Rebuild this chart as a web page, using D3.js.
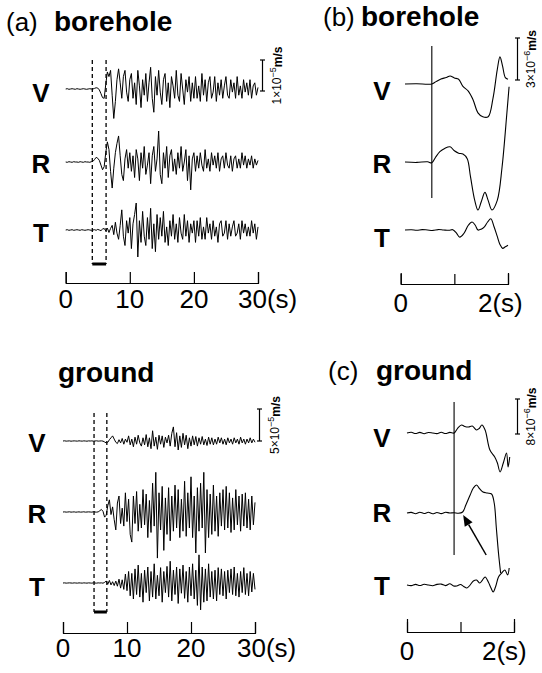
<!DOCTYPE html>
<html>
<head>
<meta charset="utf-8">
<script src="https://cdn.jsdelivr.net/npm/d3@7"></script>
<style>
  body { margin: 0; background: #fff; }
  svg { display: block; }
  text { font-family: "Liberation Sans", Arial, Helvetica, sans-serif; fill: #000; }
</style>
</head>
<body>
<svg id="chart" width="542" height="673"></svg>
<script>
// velocities in units of 1e-6 m/s

// 30 s records, one sample every 0.25 s
const dt = 0.25;

const boreholeV = [0,0.1,-0.1,0,0.1,0,-0.1,0.1,0,-0.1,0,0.1,0,-0.1,0,0.1,0,
    0,0.2,0.4,0.3,-0.3,-1.5,-2.8,-3.0,1.5,5.5,4.0,6.0,-2.0,-9.5,-4.0,3.0,6.5,2.0,-3.0,4.0,6.0,-1.0,-4.0,3.0,
    5,-3,2,-5,6,1,-6,3,-2,5,-4,2,7,-3,-7.5,4,-2,6,-1,-5,3,5,-4,2,-6,4,1,-3,6,-2,-4,5,0,-5,3,-1,4,-4,2,-3,
    4,-3,1,-4,5,-2,3,-4,2,4,-3,-1,4,-4,2,-2,3,-3,1,4,-2,-3,3,-1,2,-3,4,-2,1,-3,3,-1,2,-2,3,-3,1,2,-2,0.5];
const boreholeR = [0,-0.1,0.1,0,-0.1,0.1,0,0,-0.1,0.1,0,-0.1,0.1,0,0,-0.1,0.1,
    0.2,0.8,1.5,1.2,0.5,-1.0,-2.5,-1.5,3.0,6.5,4.0,-3.0,-8.4,-2.0,3.0,6.0,8.4,2.0,-4.0,-6.0,1.0,4.0,-2.0,3.0,
    -3,2,-5,4,1,-6,3,-2,5,-4,-1,3,-7,2,5,-3,1,10,-4,-7,3,-2,5,-5,2,4,-3,1,-4,3,-2,5,-3,0,4,-6,2,-9,1,3,
    -3,2,-2,3,-1,-3,4,-2,1,-3,3,-1,2,-2,3,-3,1,2,-2,3,-1,-2,2,-3,1,2,-2,1,-2,3,-1,2,-2,1,-1,2,-2,1,-1,0.5];
const boreholeT = [0,0.1,-0.1,0,0.1,-0.1,0,0.1,0,-0.1,0.1,0,-0.1,0,0.1,0,-0.1,
    0,0.1,-0.1,0.2,0,-0.2,0.3,0.5,-0.3,0.6,-0.8,0.5,1.5,-1.5,2.5,-1,-3,1.5,6.5,-2,-5,3,-1,4,
    -6,2,5,8.7,-8.7,3,-4,6,-2,-5,4,-3,7,-6,2,-7,5,-3,4,-2,6,-4,1,-5,3,-2,5,-3,2,-4,4,-1,-3,5,-2,3,-4,2,-1,3,
    -4,3,-2,4,-3,1,-3,4,-1,2,-3,3,-2,1,-4,2,3,-2,-1,3,-3,2,-2,1,3,-2,-1,2,-3,3,-1,2,-2,1,-2,3,-1,2,-3,1];

const groundV = [0,0.3,-0.2,0,0.2,-0.3,0,0.2,0,-0.2,0.3,0,-0.2,0.2,0,-0.3,0.2,
    0,0.2,-0.2,0,0.3,-0.2,0,0.2,-0.2,-1.5,-3,-2,2,5,8,3,-2,-4,2,-3,4,-5,3,-2,
    8,-6,3,-9,6,-5,9,-3,-8,5,-6,10,-9,5,-12,16,-8,6,-13,9,-5,8,-10,6,-3,9,-8,12,22,-9,13,-14,8,-10,12,-6,9,-12,5,-8,
    8,-6,7,-8,5,-5,7,-6,3,-7,6,-5,5,-6,3,-5,6,-3,5,-5,3,-6,5,-3,3,-5,5,-3,3,-5,6,-3,3,-5,3,-3,5,-3,3,-2];
const groundR = [0,0.2,-0.2,0,0.3,-0.2,0,0.2,-0.3,0,0.2,-0.2,0,0.3,-0.2,0,0.2,
    0,-0.2,0.3,0,-0.2,0.2,2,4,1,-8,-5,10,19,-4,8,-12,-28,14,25,-18,6,-22,30,-15,
    20,-35,-47,25,-18,32,-30,12,-25,35,-20,28,-40,18,-32,45,-22,62,-72,30,-28,40,-60,22,-35,38,-45,25,-30,42,-25,35,-40,20,-30,48,-38,30,-25,55,
    -40,25,-64,38,-30,45,-25,62,-64,35,-40,28,-35,42,-30,25,-38,30,-22,35,-28,40,-25,30,-32,22,-28,35,-20,25,-30,28,-22,30,-25,20,-28,25,-20,15];
const groundT = [0,0.2,-0.2,0,0.2,0,-0.2,0.2,0,-0.2,0.2,0,-0.2,0.2,0,-0.2,0.2,
    0,-0.2,0.2,0,-0.2,0.2,0,0.2,-0.3,1,3,-2,4,-3,2,-4,3,-5,6,-8,5,-10,14,-12,
    18,-20,15,-25,22,-18,28,-22,15,-30,20,-15,25,-28,18,-22,30,-25,12,-20,24,-30,18,-15,26,-22,34,-28,20,-18,25,-32,22,-16,28,-24,18,-30,25,-20,
    30,-25,20,-35,44,-42,25,-30,22,-28,30,-22,18,-25,20,-28,24,-18,22,-20,18,-25,20,-15,22,-18,25,-20,15,-22,18,-15,24,-18,15,-20,18,-14,15,-10];

// 2 s close-ups: sample times (s) and values
const bhZoomVTime = [0.08,0.3,0.5,0.58,0.66,0.75,0.85,0.92,1.0,1.08,1.16,1.26,1.35,1.44,1.53,1.63,1.72,1.8,1.85,1.9,1.95,2.0];
const bhZoomV = [0,0.02,-0.02,0,0.17,0.36,0.46,0.57,0.43,0.34,-0.17,-0.51,-1.14,-2.06,-2.34,-2.34,-1.03,1.03,1.94,1.26,0.46,0.34];
const bhZoomRTime = [0.08,0.3,0.5,0.58,0.65,0.73,0.82,0.92,1.0,1.08,1.16,1.24,1.3,1.38,1.44,1.5,1.57,1.63,1.7,1.8,1.89,1.98,2.02];
const bhZoomR = [0,-0.03,0.02,-0.06,0.34,0.74,0.97,1.09,0.8,0.63,0.57,0.23,-1.03,-2.74,-3.43,-2.86,-2.17,-2.74,-3.43,-2.74,-0.34,3.54,5.37];
const bhZoomTTime = [0.08,0.2,0.3,0.4,0.5,0.6,0.7,0.8,0.9,0.97,1.04,1.1,1.18,1.26,1.33,1.39,1.44,1.5,1.56,1.62,1.68,1.74,1.8,1.85,1.9,1.95,2.0];
const bhZoomT = [0,0.02,-0.02,0.03,0,-0.03,0.03,0,-0.02,0.02,-0.23,-0.51,-0.23,0.34,0.57,0.34,0,0.06,0.23,0.57,0.8,0.23,-0.46,-1.03,-1.31,-1.2,-1.09];

const grZoomVTime = [0,0.08,0.16,0.24,0.32,0.4,0.48,0.56,0.64,0.72,0.8,0.88,0.95,1.02,1.08,1.15,1.22,1.3,1.35,1.4,1.46,1.55,1.64,1.69,1.74,1.8,1.86,1.89,1.92];
const grZoomV = [0,0.16,-0.11,0.14,-0.16,0.11,0,-0.14,0.16,-0.11,0.14,0,1.14,1.83,1.49,1.37,1.6,0.69,1.03,1.83,0.69,-3.89,-5.49,-6.86,-8.91,-6.86,-4.57,-7.77,-5.49];
const grZoomRTime = [0,0.08,0.16,0.24,0.32,0.4,0.48,0.56,0.64,0.72,0.8,0.88,0.96,1.04,1.1,1.18,1.24,1.3,1.36,1.42,1.5,1.58,1.63,1.67,1.71,1.75];
const grZoomR = [0,0.14,-0.16,0.18,-0.11,0.16,-0.18,0.11,-0.14,0.16,0,0.07,-0.07,0.23,1.83,4.11,5.71,6.4,5.49,4.8,4.57,4.34,2.29,-3.43,-9.14,-13.71];
const grZoomTTime = [0,0.08,0.16,0.24,0.32,0.4,0.48,0.56,0.64,0.72,0.8,0.87,0.93,1.0,1.06,1.12,1.18,1.24,1.3,1.36,1.41,1.46,1.52,1.57,1.61,1.66,1.71,1.77,1.83,1.88,1.91];
const grZoomT = [0,-0.14,0.14,-0.11,0.16,0,-0.16,0.14,0.21,-0.14,0.27,-0.21,-0.23,0.11,-0.34,-0.69,0,0.91,1.14,0.46,1.14,1.83,0.69,-0.69,-1.6,-0.23,1.83,2.74,3.43,2.29,3.89];

const components = ["V", "R", "T"];
const longTicks = [0, 10, 20, 30];
const longTickLabels = ["0", "10", "20", "30(s)"];
const shortTicks = [0, 1, 2];
const shortTickLabels = ["0", "", "2(s)"];
const boreholeWindow = [4.15, 6.3];   // s, boxed part shown in (b)
const groundWindow = [4.85, 6.85];    // s, boxed part shown in (c)
const boreholePick = 0.58;            // s, onset line in (b)
const groundPick = 0.88;              // s, onset line in (c)
const barValues = [10, 50, 3, 8];     // scale bars, 1e-6 m/s
const barMantissa = ["1", "5", "3", "8"];
const barExponent = ["\u22125", "\u22125", "\u22126", "\u22126"];
const arrowTime = [1.48, 1.05];       // tail, tip
const arrowValue = [-9.6, -0.46];

const svg = d3.select("#chart");

// layout of the four panels
const panels = [
    { tag: "(a)", tagX: 6, name: "borehole", nameX: 54, titleY: 31,
      x: d3.scaleLinear().domain([0, 30]).range([65.7, 258]), barPx: 31,
      rows: [89, 162, 230], labelX: 41, labelY: [102, 173, 242],
      axisY: 283, tickIn: 11, tickOut: 11, tickDy: 25, lastShift: 20,
      bar: { x: 262.5, bottom: 91, textX: 281 },
      series: [boreholeV, boreholeR, boreholeT], window: boreholeWindow, winY: [60, 264] },
    { tag: null, name: "ground", nameX: 58, titleY: 382,
      x: d3.scaleLinear().domain([0, 30]).range([63, 255]), barPx: 32,
      rows: [441, 512, 583], labelX: 37, labelY: [452, 523, 596],
      axisY: 633, tickIn: 11, tickOut: 11, tickDy: 24, lastShift: 18,
      bar: { x: 259.5, bottom: 441, textX: 279 },
      series: [groundV, groundR, groundT], window: groundWindow, winY: [413, 612] },
    { tag: "(b)", tagX: 323, name: "borehole", nameX: 361, titleY: 26,
      x: d3.scaleLinear().domain([0, 2]).range([400.7, 508]), barPx: 42,
      rows: [84, 162, 230], labelX: 382, labelY: [100, 173, 247],
      axisY: 284, tickIn: 10, tickOut: 11, tickDy: 28, lastShift: 30,
      bar: { x: 517.5, bottom: 80, textX: 535 },
      times: [bhZoomVTime, bhZoomRTime, bhZoomTTime], series: [bhZoomV, bhZoomR, bhZoomT],
      pick: boreholePick, pickY: [46, 198] },
    { tag: "(c)", tagX: 328, name: "ground", nameX: 376, titleY: 380,
      x: d3.scaleLinear().domain([0, 2]).range([407, 514]), barPx: 35,
      rows: [433, 513, 585], labelX: 382, labelY: [447, 522, 595],
      axisY: 632, tickIn: 10, tickOut: 13, tickDy: 28, lastShift: 32,
      bar: { x: 517.5, bottom: 434, textX: 535 },
      times: [grZoomVTime, grZoomRTime, grZoomTTime], series: [grZoomV, grZoomR, grZoomT],
      pick: groundPick, pickY: [402, 555] }
];

panels.forEach(function(p, pi) {
    const g = svg.append("g");
    const y = d3.scaleLinear().domain([0, barValues[pi]]).range([0, -p.barPx]);

    // title
    if (p.tag) {
        g.append("text").attr("x", p.tagX).attr("y", p.titleY)
            .style("font-size", "26px").text(p.tag);
    }
    g.append("text").attr("x", p.nameX).attr("y", p.titleY)
        .style("font-size", "28px").style("font-weight", "bold").text(p.name);

    // traces
    p.series.forEach(function(values, i) {
        const line = d3.line()
            .x(function(d, k) { return p.times ? p.x(p.times[i][k]) : p.x(k * dt); })
            .y(function(d) { return p.rows[i] + y(d); })
            .curve(p.times ? d3.curveCatmullRom.alpha(0.5) : d3.curveLinear);
        g.append("path").datum(values)
            .attr("d", line)
            .attr("fill", "none")
            .attr("stroke", "#000")
            .attr("stroke-width", p.times ? 1.1 : 1.0)
            .attr("stroke-linejoin", "round");

        g.append("text")
            .attr("x", p.labelX).attr("y", p.labelY[i])
            .attr("text-anchor", "middle")
            .style("font-size", "26px").style("font-weight", "bold")
            .text(components[i]);
    });

    // time axis (bracket with ticks pointing up)
    const axis = d3.axisTop(p.x)
        .tickValues(p.times ? shortTicks : longTicks)
        .tickFormat("")
        .tickSizeInner(p.tickIn)
        .tickSizeOuter(p.tickOut);
    const ax = g.append("g").attr("transform", "translate(0," + p.axisY + ")").call(axis);
    ax.selectAll("path, line").attr("stroke", "#000").attr("stroke-width", 1.2);
    ax.selectAll("text").remove();

    const tickLabels = p.times ? shortTickLabels : longTickLabels;
    (p.times ? shortTicks : longTicks).forEach(function(t, i) {
        const last = tickLabels[i].indexOf("(s)") >= 0;
        g.append("text")
            .attr("x", last ? p.x(t) - p.lastShift : p.x(t))
            .attr("y", p.axisY + p.tickDy)
            .attr("text-anchor", last ? "start" : "middle")
            .style("font-size", "26px")
            .text(tickLabels[i]);
    });

    // amplitude scale bar
    const top = p.bar.bottom + y(barValues[pi]);
    const bar = g.append("g").attr("stroke", "#000").attr("stroke-width", 1.2);
    bar.append("line").attr("x1", p.bar.x).attr("x2", p.bar.x).attr("y1", top).attr("y2", p.bar.bottom);
    bar.append("line").attr("x1", p.bar.x - 2.5).attr("x2", p.bar.x + 2.5).attr("y1", top).attr("y2", top);
    bar.append("line").attr("x1", p.bar.x - 2.5).attr("x2", p.bar.x + 2.5).attr("y1", p.bar.bottom).attr("y2", p.bar.bottom);

    const lab = g.append("text")
        .attr("transform", "translate(" + p.bar.textX + "," + (top + p.bar.bottom) / 2 + ") rotate(-90)")
        .attr("text-anchor", "middle")
        .style("font-size", "12px");
    lab.append("tspan").text(barMantissa[pi] + "\u00d710");
    lab.append("tspan").attr("dy", -5).style("font-size", "9px").text(barExponent[pi]);
    lab.append("tspan").attr("dy", 6).style("font-weight", "bold").text("m/s");

    // dashed box marking the close-up window
    if (p.window) {
        p.window.forEach(function(t) {
            g.append("line")
                .attr("x1", p.x(t)).attr("x2", p.x(t))
                .attr("y1", p.winY[0]).attr("y2", p.winY[1])
                .attr("stroke", "#000").attr("stroke-width", 1.3)
                .attr("stroke-dasharray", "4,3");
        });
        g.append("line")
            .attr("x1", p.x(p.window[0])).attr("x2", p.x(p.window[1]))
            .attr("y1", p.winY[1]).attr("y2", p.winY[1])
            .attr("stroke", "#000").attr("stroke-width", 3);
    }

    // onset line
    if (p.pick !== undefined) {
        g.append("line")
            .attr("x1", p.x(p.pick)).attr("x2", p.x(p.pick))
            .attr("y1", p.pickY[0]).attr("y2", p.pickY[1])
            .attr("stroke", "#000").attr("stroke-width", 1.1);
    }

    // arrow at the R onset in (c)
    if (pi === 3) {
        const x1 = p.x(arrowTime[0]), y1 = p.rows[1] + y(arrowValue[0]);
        const x2 = p.x(arrowTime[1]), y2 = p.rows[1] + y(arrowValue[1]);
        const ang = Math.atan2(y2 - y1, x2 - x1);
        const hl = 11, hw = 4.5;
        const bx = x2 - hl * Math.cos(ang), by = y2 - hl * Math.sin(ang);
        g.append("line").attr("x1", x1).attr("y1", y1).attr("x2", bx).attr("y2", by)
            .attr("stroke", "#000").attr("stroke-width", 1.5);
        g.append("path")
            .attr("d", "M" + x2 + "," + y2 +
                "L" + (bx - hw * Math.sin(ang)) + "," + (by + hw * Math.cos(ang)) +
                "L" + (bx + hw * Math.sin(ang)) + "," + (by - hw * Math.cos(ang)) + "Z")
            .attr("fill", "#000");
    }
});
</script>
</body>
</html>
